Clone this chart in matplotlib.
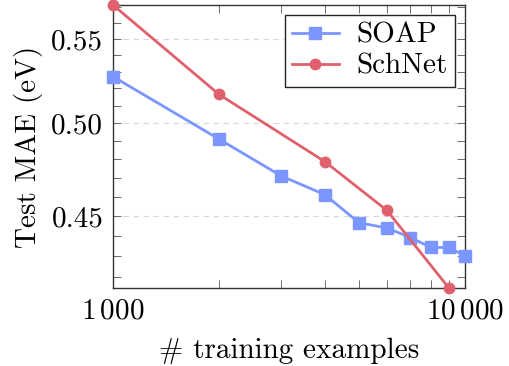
import matplotlib
matplotlib.use('Agg')
import matplotlib.pyplot as plt
from matplotlib.ticker import FixedLocator, FixedFormatter, NullFormatter

plt.rcParams['font.family'] = 'serif'
plt.rcParams['font.serif'] = ['cmr10']
plt.rcParams['mathtext.fontset'] = 'cm'
plt.rcParams['axes.unicode_minus'] = False
plt.rcParams['axes.formatter.use_mathtext'] = True

# data
soap_n = [1000, 2000, 3000, 4000, 5000, 6000, 7000, 8000, 9000, 10000]
soap_mae = [0.527, 0.491, 0.471, 0.461, 0.4466, 0.444, 0.4392, 0.4343, 0.4343, 0.4301]
schnet_n = [1000, 2000, 4000, 6000, 9000]
schnet_mae = [0.5715, 0.5165, 0.4786, 0.4529, 0.4148]

x_ticks = [1000, 10000]
x_ticklabels = [r'$1\,000$', r'$10\,000$']
y_ticks = [0.45, 0.50, 0.55]
y_ticklabels = ['0.45', '0.50', '0.55']

blue = '#7b96ff'
red = '#e0606e'
fs = 21

fig = plt.figure(figsize=(5.1, 3.66), dpi=100)
ax = fig.add_axes([0.2216, 0.2131, 0.6902, 0.7732])

ax.plot(soap_n, soap_mae, color=blue, lw=2.0, marker='s', ms=8,
        label='SOAP', clip_on=False, zorder=3)
ax.plot(schnet_n, schnet_mae, color=red, lw=2.0, marker='o', ms=7.5,
        label='SchNet', clip_on=False, zorder=3)

ax.set_xscale('log')
ax.set_yscale('log')
ax.set_xlim(1000, 10000)
ax.set_ylim(min(schnet_mae), max(schnet_mae))

ax.xaxis.set_major_locator(FixedLocator(x_ticks))
ax.xaxis.set_major_formatter(FixedFormatter(x_ticklabels))
ax.xaxis.set_minor_locator(FixedLocator([2000, 3000, 4000, 5000, 6000, 7000, 8000, 9000]))
ax.xaxis.set_minor_formatter(NullFormatter())

ax.yaxis.set_major_locator(FixedLocator(y_ticks))
ax.yaxis.set_major_formatter(FixedFormatter(y_ticklabels))
ax.yaxis.set_minor_locator(FixedLocator([0.42, 0.43, 0.44, 0.46, 0.47, 0.48, 0.49,
                                         0.51, 0.52, 0.53, 0.54, 0.56, 0.57]))
ax.yaxis.set_minor_formatter(NullFormatter())

ax.tick_params(which='both', direction='in', top=True, right=True,
               color='#555555', width=0.6, labelsize=fs)
ax.tick_params(which='major', length=6, pad=7)
ax.tick_params(which='minor', length=6)

ax.grid(axis='y', which='major', ls=(0, (5, 4)), color='#d8d8d8', lw=0.8)
ax.set_axisbelow(True)

for s in ax.spines.values():
    s.set_color('#333333')
    s.set_linewidth(1.0)

ax.set_xlabel('# training examples', fontsize=fs, labelpad=10)
ax.set_ylabel('Test MAE (eV)', fontsize=fs, labelpad=6)

leg = ax.legend(loc='upper right', fontsize=fs, fancybox=False, framealpha=1,
                edgecolor='#222222', handlelength=1.6, borderpad=0.25,
                labelspacing=0.15, handletextpad=0.6, borderaxespad=0.35)
leg.get_frame().set_linewidth(1.0)

fig.savefig('out.png', dpi=100)
